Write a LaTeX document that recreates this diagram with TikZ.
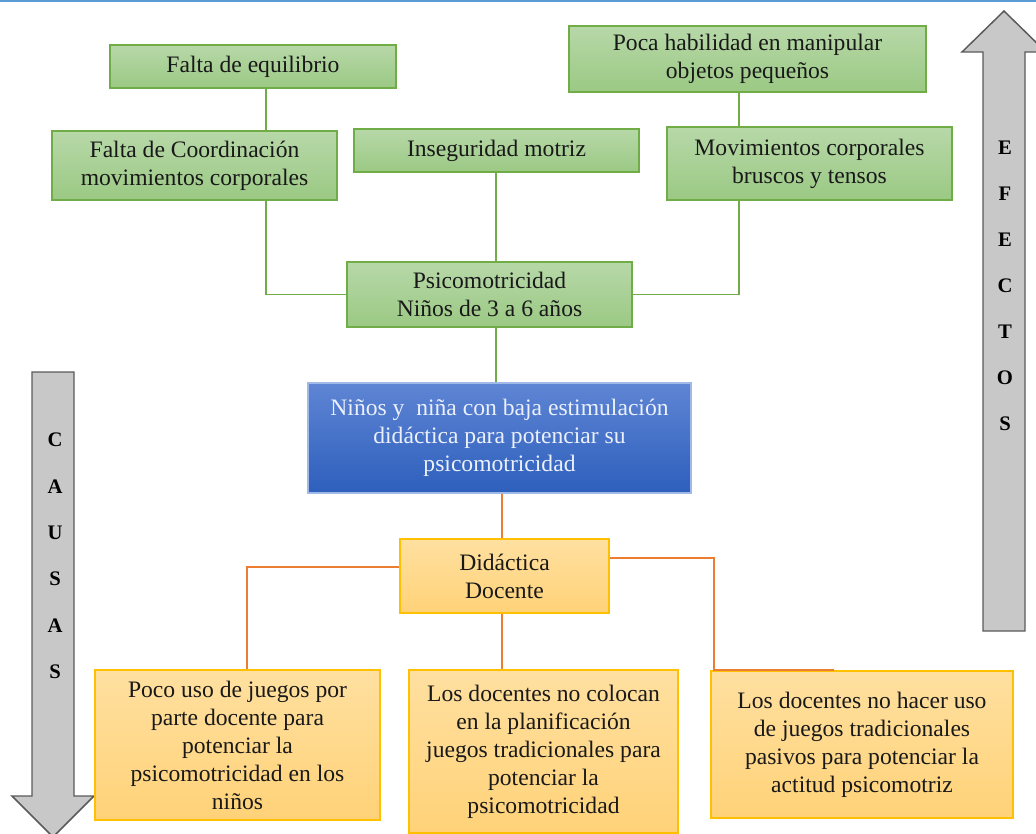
\documentclass[tikz,border=0pt]{standalone}
\usepackage{fontspec}
\setmainfont{Liberation Serif}
\definecolor{gline}{RGB}{112,173,71}
\definecolor{gtop}{RGB}{183,216,168}
\definecolor{gbot}{RGB}{155,201,132}
\definecolor{btop}{RGB}{95,133,212}
\definecolor{bbot}{RGB}{45,95,188}
\definecolor{bline}{RGB}{160,185,230}
\definecolor{ytop}{RGB}{255,224,160}
\definecolor{ybot}{RGB}{255,210,120}
\definecolor{yline}{RGB}{255,192,0}
\definecolor{oline}{RGB}{237,125,49}
\definecolor{agray}{RGB}{200,200,200}
\definecolor{adark}{RGB}{90,90,90}
\definecolor{topline}{RGB}{91,155,213}
\tikzset{
  basebox/.style={rectangle, inner sep=0pt, align=center, line width=1.1pt,
    font=\fontsize{17.7}{21}\selectfont, text=black!90},
  gbox/.style={basebox, draw=gline, top color=gtop, bottom color=gbot},
  bbox/.style={basebox, draw=bline, top color=btop, bottom color=bbot, text={rgb,255:red,235;green,240;blue,250}},
  ybox/.style={basebox, draw=yline, top color=ytop, bottom color=ybot},
  gcon/.style={draw=gline, line width=1.4pt},
  ocon/.style={draw=oline, line width=1.4pt},
  bigarrow/.style={fill=agray, draw=adark, line width=1.1pt},
  letter/.style={font=\fontsize{15.5}{17}\selectfont\bfseries, text=black, inner sep=0pt}
}
\begin{document}
\begin{tikzpicture}[x=0.75pt,y=-0.75pt]
\useasboundingbox (0,0) rectangle (1036,833);
\clip (0,0) rectangle (1036,833);
\draw[topline, line width=1.6pt] (0,1.2) -- (1036,1.2);

% big arrows
\draw[bigarrow] (983,631) -- (983,52) -- (962,52) -- (1004,11) -- (1046,52) -- (1025,52) -- (1025,631) -- cycle;
\draw[bigarrow] (32,372) -- (74,372) -- (74,796) -- (94,796) -- (53,837) -- (12,796) -- (32,796) -- cycle;
\foreach \l [count=\i from 0] in {E,F,E,C,T,O,S}
  \node[letter] (ef\i) at (1005,148+46*\i) {\l};
\foreach \l [count=\i from 0] in {C,A,U,S,A,S}
  \node[letter] (ca\i) at (55,440+46.4*\i) {\l};

% green boxes
\node[gbox, minimum width=214.5pt, minimum height=32.25pt] (eq) at (253,66.5) {Falta de equilibrio};
\node[gbox, minimum width=213.75pt, minimum height=51.75pt] (coord) at (194.5,165.5) {Falta de Coordinación\\movimientos corporales};
\node[gbox, minimum width=213.75pt, minimum height=32.25pt] (inseg) at (496.5,150.5) {Inseguridad motriz};
\node[gbox, minimum width=267.75pt, minimum height=49.5pt] (poca) at (747.5,59) {Poca habilidad en manipular\\objetos pequeños};
\node[gbox, minimum width=213.75pt, minimum height=54.75pt] (movi) at (809.5,163.5) {Movimientos corporales\\bruscos y tensos};
\node[gbox, minimum width=213.75pt, minimum height=48.75pt] (psico) at (489.5,294.5) {Psicomotricidad\\Niños de 3 a 6 años};

% blue box
\node[bbox, minimum width=287.25pt, minimum height=82.5pt] (prob) at (499.5,438) {Niños y \ niña con baja estimulación\\didáctica para potenciar su\\psicomotricidad};

% yellow boxes
\node[ybox, minimum width=156.75pt, minimum height=55.5pt] (dd) at (504.5,576) {Didáctica\\Docente};
\node[ybox, minimum width=213.75pt, minimum height=112.5pt] (c1) at (237.5,745) {Poco uso de juegos por\\parte docente para\\potenciar la\\psicomotricidad en los\\niños};
\node[ybox, minimum width=201.75pt, minimum height=122pt] (c2) at (543.5,751.5) {Los docentes no colocan\\en la planificación\\juegos tradicionales para\\potenciar la\\psicomotricidad};
\node[ybox, minimum width=226.5pt, minimum height=110.25pt] (c3) at (862,744.5) {Los docentes no hacer uso\\de juegos tradicionales\\pasivos para potenciar la\\actitud psicomotriz};

% column / row helpers
\coordinate (xa) at (266,0);
\coordinate (xb) at (496,0);
\coordinate (xc) at (739,0);
\coordinate (xd) at (502,0);
\coordinate (xe) at (247,0);
\coordinate (xf) at (714,0);
\coordinate (xg) at (834,0);
\coordinate (yl) at (0,567);
\coordinate (yr) at (0,558);

% green connectors
\draw[gcon] (xa |- eq.south) -- (xa |- coord.north);
\draw[gcon] (xa |- coord.south) |- (psico.west);
\draw[gcon] (xb |- inseg.south) -- (xb |- psico.north);
\draw[gcon] (xc |- poca.south) -- (xc |- movi.north);
\draw[gcon] (xc |- movi.south) |- (psico.east);
\draw[gcon] (xb |- psico.south) -- (xb |- prob.north);

% orange connectors
\draw[ocon] (xd |- prob.south) -- (xd |- dd.north);
\draw[ocon] (dd.west |- yl) -| (xe |- c1.north);
\draw[ocon] (dd.east |- yr) -| (xf |- c3.north) -- (xg |- c3.north);
\draw[ocon] (xd |- dd.south) -- (xd |- c2.north);
\end{tikzpicture}
\end{document}
